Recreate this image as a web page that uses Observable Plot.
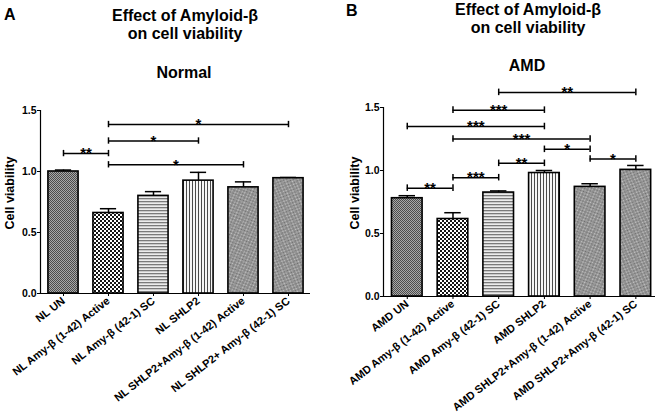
<!DOCTYPE html>
<html>
<head>
<meta charset="utf-8">
<script src="https://cdn.jsdelivr.net/npm/d3@7"></script>
<script src="https://cdn.jsdelivr.net/npm/@observablehq/plot@0.6"></script>
<style>
  html, body { margin: 0; padding: 0; background: #fff; }
  #wrap { position: relative; width: 660px; height: 416px; overflow: hidden; background: #fff;
          font-family: "Liberation Sans", Arial, sans-serif; font-weight: bold; }
  #plotA, #plotB, #overlay { position: absolute; top: 0; }
  #plotA { left: 0; } #plotB { left: 330px; } #overlay { left: 0; pointer-events: none; }
</style>
</head>
<body>
<svg width="0" height="0" style="position:absolute">
  <defs>
    <pattern id="pUN" width="2" height="2" patternUnits="userSpaceOnUse">
      <rect width="2" height="2" fill="#a8a8a8"/><rect width="1" height="1" fill="#4c4c4c"/><rect x="1" y="1" width="1" height="1" fill="#4c4c4c"/>
    </pattern>
    <pattern id="pACT" width="4" height="4" patternUnits="userSpaceOnUse">
      <rect width="4" height="4" fill="#fff"/><rect width="2" height="2" fill="#151515"/><rect x="2" y="2" width="2" height="2" fill="#151515"/>
    </pattern>
    <pattern id="pSC" width="4" height="3" patternUnits="userSpaceOnUse">
      <rect width="4" height="3" fill="#ececec"/><rect width="4" height="1.3" fill="#7a7a7a"/>
    </pattern>
    <pattern id="pSH" width="3" height="4" patternUnits="userSpaceOnUse">
      <rect width="3" height="4" fill="#f6f6f6"/><rect width="1" height="4" fill="#4a4a4a"/>
    </pattern>
    <pattern id="pCHK" width="2" height="2" patternUnits="userSpaceOnUse">
      <rect width="2" height="2" fill="#c4c4c4"/><rect width="1" height="1" fill="#6c6c6c"/><rect x="1" y="1" width="1" height="1" fill="#6c6c6c"/>
    </pattern>
    <pattern id="pD1" width="6" height="6" patternUnits="userSpaceOnUse" patternTransform="rotate(35)">
      <rect width="6" height="6" fill="url(#pCHK)"/><rect width="2" height="6" fill="#8a8a8a" opacity="0.55"/>
    </pattern>
    <pattern id="pD2" width="6" height="6" patternUnits="userSpaceOnUse" patternTransform="rotate(-35)">
      <rect width="6" height="6" fill="url(#pCHK)"/><rect width="2" height="6" fill="#8a8a8a" opacity="0.55"/>
    </pattern>
  </defs>
</svg>
<div id="wrap">
  <div id="plotA"></div>
  <div id="plotB"></div>
  <svg id="overlay" width="660" height="416"></svg>
</div>
<script>
// ---------- data ----------
const catsA = ["NL UN", "NL Amy-β (1-42) Active", "NL Amy-β (42-1) SC", "NL SHLP2",
               "NL SHLP2+Amy-β (1-42) Active", "NL SHLP2+ Amy-β (42-1) SC"];
const meanA = [1.00, 0.66, 0.80, 0.925, 0.87, 0.945];
const errA  = [0.012, 0.035, 0.035, 0.068, 0.045, 0.006];
const sigA_from = [0, 1, 1, 1];
const sigA_to   = [1, 4, 3, 5];
const sigA_y    = [1.147, 1.055, 1.25, 1.385];
const sigA_lab  = ["**", "*", "*", "*"];

const catsB = ["AMD UN", "AMD Amy-β (1-42) Active", "AMD Amy-β (42-1) SC", "AMD SHLP2",
               "AMD SHLP2+Amy-β (1-42) Active", "AMD SHLP2+Amy-β (42-1) SC"];
const meanB = [0.78, 0.615, 0.825, 0.98, 0.87, 1.005];
const errB  = [0.02, 0.05, 0.013, 0.02, 0.025, 0.035];
const sigB_from = [0, 1, 2, 3, 4, 1, 0, 1, 2];
const sigB_to   = [1, 2, 3, 4, 5, 4, 3, 3, 5];
const sigB_y    = [0.86, 0.943, 1.057, 1.168, 1.091, 1.25, 1.349, 1.479, 1.62];
const sigB_lab  = ["**", "***", "**", "*", "*", "***", "***", "***", "**"];

const yTicks = [0, 0.5, 1.0, 1.5];
const yLabel = "Cell viability";
const patterns = ["url(#pUN)", "url(#pACT)", "url(#pSC)", "url(#pSH)", "url(#pD1)", "url(#pD2)"];

function panel(cats, mean, err, sf, st, sy, sl, cfg) {
  const rows = cats.map((c, i) => ({i, c, v: mean[i], e: err[i]}));
  const br = sf.map((a, k) => ({a, b: st[k], y: sy[k], s: sl[k]}));
  const idx = rows.map(d => d.i);
  const hw = 0.335, cap = 0.18, bt = 0.026;
  return Plot.plot({
    width: 330, height: 416,
    marginLeft: cfg.ml, marginRight: cfg.mr, marginTop: cfg.mt, marginBottom: cfg.mb,
    x: {type: "linear", domain: cfg.xd},
    y: {domain: [0, 1.5]},
    color: {type: "ordinal", domain: cats, range: patterns},
    style: {fontFamily: "Liberation Sans, Arial, sans-serif", fontWeight: "bold", fontSize: "10px", color: "black", background: "transparent"},
    marks: [
      Plot.ruleX([cfg.xd[0]], {y1: 0, y2: 1.5, stroke: "black", strokeWidth: 1.2}),
      Plot.ruleY([0], {stroke: "black", strokeWidth: 1.2}),
      Plot.axisY({ticks: yTicks, tickFormat: ".1f", tickSize: 3, tickPadding: 1, fontSize: 10.5, label: null}),
      Plot.axisX({ticks: idx, tickFormat: i => cats[i], tickRotate: -38, tickSize: 3, tickPadding: 3, fontSize: 11, label: null}),
      Plot.ruleX(rows, {x: "i", y1: "v", y2: d => d.v + d.e, stroke: "black", strokeWidth: 1.5}),
      Plot.ruleY(rows, {x1: d => d.i - cap, x2: d => d.i + cap, y: d => d.v + d.e, stroke: "black", strokeWidth: 1.5}),
      Plot.rect(rows, {x1: d => d.i - hw, x2: d => d.i + hw, y1: 0, y2: "v", fill: "c", stroke: "black", strokeWidth: 1.6}),
      Plot.ruleY(br, {x1: "a", x2: "b", y: "y", stroke: "black", strokeWidth: 1.5}),
      Plot.ruleX(br, {x: "a", y1: d => d.y - bt, y2: d => d.y + bt, stroke: "black", strokeWidth: 1.5}),
      Plot.ruleX(br, {x: "b", y1: d => d.y - bt, y2: d => d.y + bt, stroke: "black", strokeWidth: 1.5}),
      Plot.text(br, {x: d => (d.a + d.b) / 2, y: "y", text: "s", fontSize: 15, dy: 0})
    ]
  });
}

document.getElementById("plotA").append(panel(catsA, meanA, errA, sigA_from, sigA_to, sigA_y, sigA_lab,
  {ml: 40, mr: 20, mt: 110, mb: 123, xd: [-0.511, 5.489]}));
document.getElementById("plotB").append(panel(catsB, meanB, errB, sigB_from, sigB_to, sigB_y, sigB_lab,
  {ml: 53, mr: 5, mt: 107, mb: 120, xd: [-0.52, 5.43]}));

// titles and y-axis labels
const titles = [
  {t: "A", x: 4, y: 20, a: "start", s: 16},
  {t: "Effect of Amyloid-β", x: 185, y: 21, a: "middle", s: 16},
  {t: "on cell viability", x: 185, y: 39, a: "middle", s: 16},
  {t: "Normal", x: 184, y: 78, a: "middle", s: 16},
  {t: "B", x: 346, y: 15.5, a: "start", s: 16},
  {t: "Effect of Amyloid-β", x: 528, y: 14.5, a: "middle", s: 16},
  {t: "on cell viability", x: 528, y: 33, a: "middle", s: 16},
  {t: "AMD", x: 527, y: 71, a: "middle", s: 16},
  {t: yLabel, x: 14, y: 193, a: "middle", s: 12.5, r: -90},
  {t: yLabel, x: 359, y: 193, a: "middle", s: 12.5, r: -90}
];
d3.select("#overlay").selectAll("text").data(titles).join("text")
  .attr("transform", d => `translate(${d.x},${d.y})` + (d.r ? ` rotate(${d.r})` : ""))
  .attr("text-anchor", d => d.a)
  .attr("font-family", "Liberation Sans, Arial, sans-serif").attr("font-weight", "bold")
  .attr("font-size", d => d.s).text(d => d.t);
</script>
</body>
</html>
